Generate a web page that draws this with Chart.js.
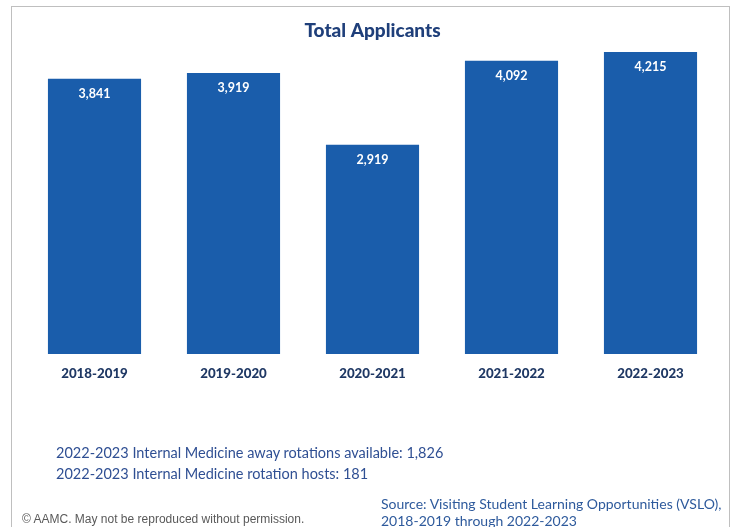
<!DOCTYPE html>
<html>
<head>
<meta charset="utf-8">
<script src="https://cdn.jsdelivr.net/npm/chart.js@4/dist/chart.umd.min.js"></script>
<style>
  html, body { margin: 0; padding: 0; background: #fff; }
  #wrap { position: relative; width: 741px; height: 527px; overflow: hidden; }
  #frame { position: absolute; left: 11px; top: 6px; width: 719px; height: 560px;
           border: 1px solid #bfbfbf; box-sizing: border-box; }
  canvas { position: absolute; left: 0; top: 0; }
  .note { position: absolute; font-family: Lato, sans-serif; white-space: nowrap; }
</style>
</head>
<body>
<div id="wrap">
  <div id="frame"></div>
  <canvas id="c" width="741" height="527"></canvas>
  <div class="note" id="n1" style="left:56px; top:444px; font-size:14.5px; color:#2f4f93;">2022-2023 Internal Medicine away rotations available: 1,826</div>
  <div class="note" id="n2" style="left:56px; top:465px; font-size:14.5px; color:#2f4f93;">2022-2023 Internal Medicine rotation hosts: 181</div>
  <div class="note" id="n3" style="left:381px; top:495px; font-size:14px; color:#2e5a9c; line-height:17px;">Source: Visiting Student Learning Opportunities (VSLO),<br>2018-2019 through 2022-2023</div>
  <div class="note" id="n4" style="left:22px; top:512px; font-size:12px; color:#595959; font-family:'Liberation Sans', Arial, sans-serif;">© AAMC. May not be reproduced without permission.</div>
</div>
<script>
const categories = ["2018-2019", "2019-2020", "2020-2021", "2021-2022", "2022-2023"];
const applicants = [3841, 3919, 2919, 4092, 4215];
const chartTitle = "Total Applicants";

const valueLabels = {
  id: 'valueLabels',
  afterDatasetsDraw(chart) {
    const ctx = chart.ctx;
    const meta = chart.getDatasetMeta(0);
    ctx.save();
    ctx.fillStyle = '#ffffff';
    ctx.font = 'bold 12.5px Lato, sans-serif';
    ctx.textAlign = 'center';
    ctx.textBaseline = 'middle';
    meta.data.forEach((bar, i) => {
      ctx.fillText(applicants[i].toLocaleString('en-US'), bar.x, bar.y + 15);
    });
    ctx.restore();
  }
};

new Chart(document.getElementById('c'), {
  type: 'bar',
  data: {
    labels: categories,
    datasets: [{
      data: applicants,
      backgroundColor: '#1a5dab',
      borderWidth: 0,
      categoryPercentage: 1.0,
      barPercentage: 0.67
    }]
  },
  options: {
    responsive: false,
    animation: false,
    devicePixelRatio: 1,
    layout: { padding: { left: 25, right: 21, top: 0, bottom: 133 } },
    plugins: {
      legend: { display: false },
      tooltip: { enabled: false },
      title: {
        display: true,
        text: chartTitle,
        color: '#1f3f7a',
        font: { family: 'Lato, sans-serif', size: 19, weight: 900, lineHeight: 1.2 },
        padding: { top: 19, bottom: 4 }
      }
    },
    scales: {
      x: {
        grid: { display: false, drawTicks: false },
        border: { display: false },
        ticks: {
          color: '#1f3864',
          padding: 12,
          font: { family: 'Lato, sans-serif', size: 13.3, weight: 900 }
        }
      },
      y: {
        display: false,
        min: 0,
        max: 4300
      }
    }
  },
  plugins: [valueLabels]
});
</script>
</body>
</html>
